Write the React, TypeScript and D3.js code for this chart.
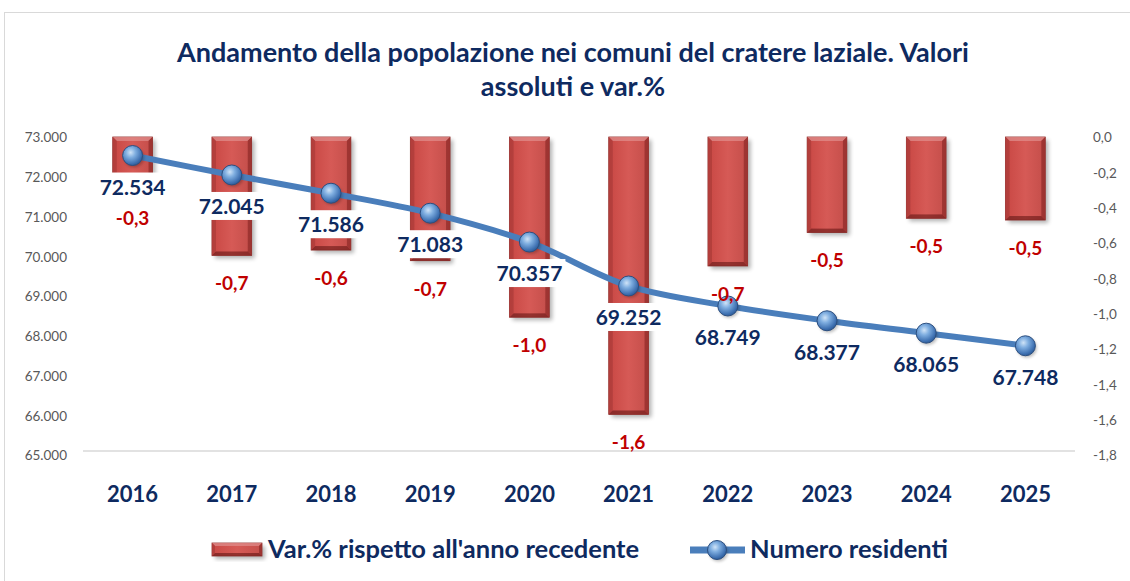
import React from "react";
import * as d3 from "d3";

const years = ["2016", "2017", "2018", "2019", "2020", "2021", "2022", "2023", "2024", "2025"];
const varPct = [-0.3, -0.67, -0.64, -0.7, -1.02, -1.57, -0.73, -0.54, -0.46, -0.47];
const residents = [72534, 72045, 71586, 71083, 70357, 69252, 68749, 68377, 68065, 67748];
const leftTicks = [73000, 72000, 71000, 70000, 69000, 68000, 67000, 66000, 65000];
const rightTicks = [0, -0.2, -0.4, -0.6, -0.8, -1.0, -1.2, -1.4, -1.6, -1.8];
const titleLines = ["Andamento della popolazione nei comuni del cratere laziale. Valori", "assoluti e var.%"];
const legendLabels = ["Var.% rispetto all'anno recedente", "Numero residenti"];

const W = 1130, H = 581;
const L = 83, R = 1075, T = 137, B = 455;
const NAVY = "#0E2A60";
const RED = "#C00000";
const FONT = "Lato, 'Open Sans', sans-serif";

const fmtThousands = (v: number) => d3.format(",")(v).replace(/,/g, ".");
const fmtDec = (v: number) => d3.format(".1f")(v).replace(".", ",").replace("−", "-");

export default function App() {
  const x = d3.scaleBand<string>().domain(years).range([L, R]).paddingInner(0.6).paddingOuter(0.3);
  const xc = (y: string) => (x(y) as number) + x.bandwidth() / 2;
  const yL = d3.scaleLinear().domain([65000, 73000]).range([B, T]);
  const yR = d3.scaleLinear().domain([-1.8, 0]).range([B, T]);

  const line = d3
    .line<number>()
    .x((_, i) => xc(years[i]))
    .y((d) => yL(d))
    .curve(d3.curveCatmullRom.alpha(0.5));

  const bw = x.bandwidth();

  const Marker = ({ cx, cy, r = 10 }: { cx: number; cy: number; r?: number }) => (
    <g>
      <circle cx={cx + 1.5} cy={cy + 2} r={r} fill="#000" opacity={0.25} filter="url(#blur2)" />
      <circle cx={cx} cy={cy} r={r} fill="url(#ballGrad)" stroke="#2C4F80" strokeWidth={1} />
    </g>
  );

  const Bar = ({ bx, y0, y1, w, inset = 4 }: { bx: number; y0: number; y1: number; w: number; inset?: number }) => {
    const h = Math.max(0, y1 - y0);
    return (
      <g>
        <rect x={bx + 3} y={y0 + 3} width={w} height={h} fill="#000" opacity={0.3} filter="url(#blur3)" />
        <rect x={bx} y={y0} width={w} height={h} fill="url(#barEdge)" stroke="#8E2B28" strokeWidth={0.8} />
        <polygon points={`${bx},${y0} ${bx + w},${y0} ${bx + w - inset},${y0 + inset} ${bx + inset},${y0 + inset}`} fill="#E48C89" opacity={0.8} />
        <polygon points={`${bx},${y0 + h} ${bx + w},${y0 + h} ${bx + w - inset},${y0 + h - inset} ${bx + inset},${y0 + h - inset}`} fill="#7E2522" opacity={0.7} />
        <polygon points={`${bx},${y0} ${bx + inset},${y0 + inset} ${bx + inset},${y0 + h - inset} ${bx},${y0 + h}`} fill="#B5403C" opacity={0.8} />
        <polygon points={`${bx + w},${y0} ${bx + w - inset},${y0 + inset} ${bx + w - inset},${y0 + h - inset} ${bx + w},${y0 + h}`} fill="#9B3330" opacity={0.8} />
        <rect x={bx + inset} y={y0 + inset} width={w - 2 * inset} height={Math.max(0, h - 2 * inset)} fill="url(#barFace)" />
      </g>
    );
  };

  return (
    <svg width={W} height={H} style={{ position: "absolute", left: 0, top: 0, background: "#fff" }} fontFamily={FONT}>
      <defs>
        <linearGradient id="barEdge" x1="0" x2="1" y1="0" y2="0">
          <stop offset="0" stopColor="#A8393A" />
          <stop offset="0.5" stopColor="#C9504C" />
          <stop offset="1" stopColor="#A8393A" />
        </linearGradient>
        <linearGradient id="barFace" x1="0" x2="1" y1="0" y2="0">
          <stop offset="0" stopColor="#CB4B47" />
          <stop offset="0.5" stopColor="#D65A56" />
          <stop offset="1" stopColor="#C7504C" />
        </linearGradient>
        <radialGradient id="ballGrad" cx="0.4" cy="0.35" r="0.7">
          <stop offset="0" stopColor="#CFE3F7" />
          <stop offset="0.35" stopColor="#7FAEE0" />
          <stop offset="0.8" stopColor="#3D6FB0" />
          <stop offset="1" stopColor="#2A568F" />
        </radialGradient>
        <filter id="blur3" x="-20%" y="-20%" width="140%" height="140%">
          <feGaussianBlur stdDeviation="2" />
        </filter>
        <filter id="blur2" x="-50%" y="-50%" width="200%" height="200%">
          <feGaussianBlur stdDeviation="1.5" />
        </filter>
      </defs>

      <rect x={4.5} y={12.5} width={W} height={H} fill="#fff" stroke="#D9D9D9" strokeWidth={1} />

      {/* title */}
      {titleLines.map((t, i) => (
        <text key={i} x={573} y={62 + i * 34} textAnchor="middle" fontSize={27} fontWeight="bold" fill={NAVY}>
          {t}
        </text>
      ))}

      {/* left axis */}
      {leftTicks.map((v) => (
        <text key={v} x={67} y={yL(v) + 2} textAnchor="end" dominantBaseline="middle" fontSize={13.5} fill="#595959">
          {fmtThousands(v)}
        </text>
      ))}
      {/* right axis */}
      {rightTicks.map((v) => (
        <text key={v} x={1093} y={yR(v) + 2} textAnchor="start" dominantBaseline="middle" fontSize={13.5} fill="#595959">
          {fmtDec(v)}
        </text>
      ))}

      <line x1={L} x2={R} y1={451} y2={451} stroke="#D9D9D9" strokeWidth={1.5} />

      {/* bars */}
      {years.map((yr, i) => (
        <Bar key={yr} bx={x(yr) as number} y0={yR(0)} y1={yR(varPct[i])} w={bw} />
      ))}

      {/* line */}
      <path d={line(residents) || ""} fill="none" stroke="#4A7EBB" strokeWidth={6} strokeLinejoin="round" />
      {residents.map((v, i) => (
        <Marker key={i} cx={xc(years[i])} cy={yL(v)} />
      ))}

      {/* bar labels */}
      {years.map((yr, i) => (
        <text key={yr} x={xc(yr)} y={yR(varPct[i]) + 35} textAnchor="middle" fontSize={19} fontWeight="bold" fill={RED}>
          {fmtDec(varPct[i])}
        </text>
      ))}

      {/* resident labels */}
      {residents.map((v, i) => {
        const cx = xc(years[i]);
        const by = yL(v) + 39;
        return (
          <g key={i}>
            <rect x={cx - 36} y={by - 22} width={72} height={28} fill="#fff" />
            <text x={cx} y={by} textAnchor="middle" fontSize={21} fontWeight="bold" fill={NAVY}>
              {fmtThousands(v)}
            </text>
          </g>
        );
      })}

      {/* category labels */}
      {years.map((yr) => (
        <text key={yr} x={xc(yr)} y={502} textAnchor="middle" fontSize={22} fontWeight="bold" fill={NAVY}>
          {yr}
        </text>
      ))}

      {/* legend */}
      <g>
        <Bar bx={212} y0={543} y1={556} w={50} inset={3} />
        <text x={268} y={558} fontSize={25.5} fontWeight="bold" fill={NAVY}>
          {legendLabels[0]}
        </text>
        <line x1={690} x2={745} y1={550} y2={550} stroke="#4A7EBB" strokeWidth={7} />
        <Marker cx={717} cy={550} r={9.5} />
        <text x={750} y={558} fontSize={25.5} fontWeight="bold" fill={NAVY}>
          {legendLabels[1]}
        </text>
      </g>
    </svg>
  );
}
